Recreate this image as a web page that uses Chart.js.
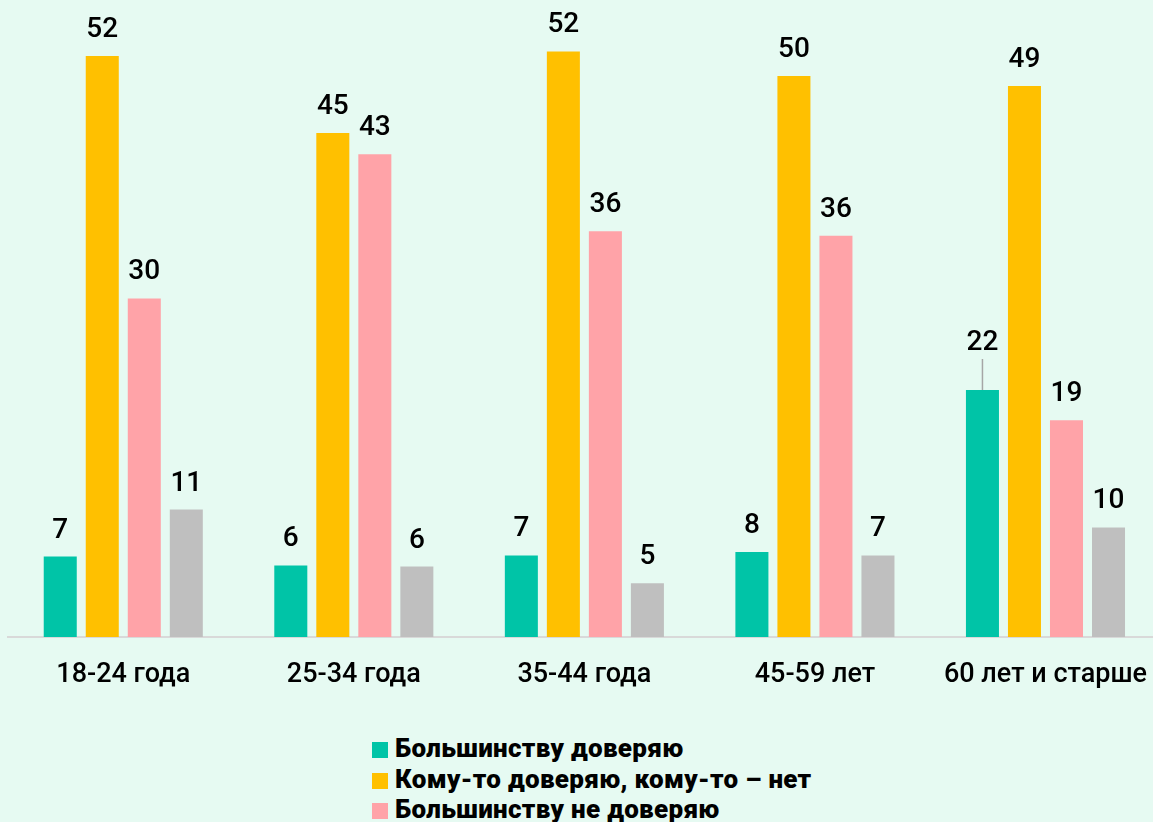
<!DOCTYPE html>
<html>
<head>
<meta charset="utf-8">
<script src="https://cdn.jsdelivr.net/npm/chart.js@4.4.1/dist/chart.umd.min.js"></script>
<style>
  html, body { margin: 0; padding: 0; background: #e6faf2; overflow: hidden; }
  #wrap { position: relative; width: 1161px; height: 822px; }
  #box { position: absolute; left: 0; top: 0; width: 1161px; height: 717px; }
  #legend { position: absolute; left: 372px; top: 733px; font-family: Roboto, sans-serif; font-weight: 900; font-size: 26px; letter-spacing: 0.3px; color: #000; }
  #legend div { height: 30.5px; line-height: 30.5px; white-space: nowrap; }
  #legend span { display: inline-block; width: 16px; height: 16px; margin-right: 7px; vertical-align: -1px; }
</style>
</head>
<body>
<div id="wrap">
  <div id="box"><canvas id="grafico"></canvas></div>
  <div id="legend"></div>
</div>
<script>
var categorias = ["18-24 года", "25-34 года", "35-44 года", "45-59 лет", "60 лет и старше"];
var series = ["Большинству доверяю", "Кому-то доверяю, кому-то – нет", "Большинству не доверяю", "Затрудняюсь ответить"];
var cores = ["#00c4a7", "#ffc000", "#ffa3a8", "#bfbfbf"];

var doveryayu = [7.2, 6.4, 7.3, 7.6, 22.1];
var komuTo = [52.0, 45.1, 52.4, 50.2, 49.3];
var neDoveryayu = [30.3, 43.2, 36.3, 35.9, 19.4];
var zatrudnyayus = [11.4, 6.3, 4.8, 7.3, 9.8];

var valores = [doveryayu, komuTo, neDoveryayu, zatrudnyayus];

// legenda em html, uma linha por serie
var leg = document.getElementById("legend");
series.forEach(function (s, i) {
   var d = document.createElement("div");
   d.innerHTML = '<span style="background:' + cores[i] + '"></span>' + s;
   leg.appendChild(d);
});

// rotulos em cima das barras
var rotulos = {
   id: "rotulos",
   afterDatasetsDraw: function (chart) {
      var ctx = chart.ctx;
      ctx.save();
      ctx.font = "500 28px Roboto";
      ctx.fillStyle = "#000";
      ctx.textAlign = "center";
      ctx.textBaseline = "alphabetic";
      chart.data.datasets.forEach(function (ds, i) {
         chart.getDatasetMeta(i).data.forEach(function (bar, j) {
            var v = ds.data[j];
            var gap = 19;
            // o 22 do ultimo grupo fica afastado, com linha guia
            if (i === 0 && j === 4) {
               gap = 40;
               ctx.strokeStyle = "#a6a6a6";
               ctx.lineWidth = 1.5;
               ctx.beginPath();
               ctx.moveTo(bar.x, bar.y);
               ctx.lineTo(bar.x, bar.y - 31);
               ctx.stroke();
            }
            ctx.fillText(Math.round(v), bar.x, bar.y - gap);
         });
      });
      ctx.restore();
   }
};

new Chart("grafico", {
   type: "bar",
   data: {
      labels: categorias,
      datasets: series.map(function (s, i) {
         return {
            label: s,
            data: valores[i],
            backgroundColor: cores[i],
            borderWidth: 0,
            categoryPercentage: 0.729,
            barPercentage: 0.786
         };
      })
   },
   options: {
      responsive: true,
      maintainAspectRatio: false,
      animation: false,
      layout: { padding: { left: 8, right: 0, top: 0, bottom: 0 } },
      plugins: {
         legend: { display: false },
         tooltip: { enabled: false }
      },
      scales: {
         x: {
            grid: { display: false },
            border: { display: true, color: "#d9d9d9", width: 2 },
            ticks: {
               color: "#000",
               padding: 14,
               font: { family: "Roboto", size: 27, weight: "500" }
            },
            afterFit: function (scale) { scale.height = 80; }
         },
         y: {
            display: false,
            min: 0,
            max: 57
         }
      }
   },
   plugins: [rotulos]
});
</script>
</body>
</html>
